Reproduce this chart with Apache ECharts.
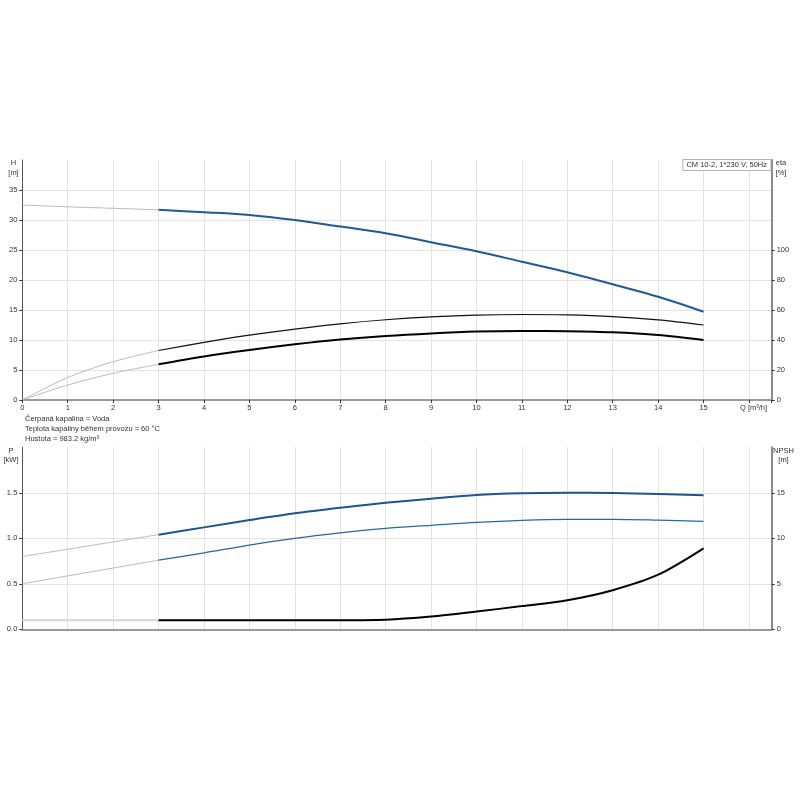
<!DOCTYPE html>
<html>
<head>
<meta charset="utf-8">
<script src="https://cdn.jsdelivr.net/npm/echarts@6/dist/echarts.min.js"></script>
<style>html,body{margin:0;padding:0;background:#fff;}#c{width:800px;height:800px;}</style>
</head>
<body>
<div id="c"></div>
<script>
// ---- data ----
const qExt = [0, 1, 2, 3];
const qMain = [3, 4, 5, 6, 7, 8, 9, 10, 11, 12, 13, 14, 15];

const hExt  = [32.5, 32.2, 31.95, 31.7];
const hMain = [31.7, 31.3, 30.85, 30.0, 28.9, 27.8, 26.3, 24.8, 23.05, 21.3, 19.3, 17.2, 14.7];

const etaUpExt  = [0, 15, 25.5, 33];
const etaUpMain = [33, 38.4, 43.2, 47.3, 50.8, 53.5, 55.4, 56.6, 57.0, 56.7, 55.6, 53.4, 50];
const etaLoExt  = [0, 10, 17.8, 23.8];
const etaLoMain = [23.8, 29.0, 33.3, 37.1, 40.3, 42.7, 44.4, 45.6, 46.0, 45.8, 45.1, 43.3, 40];

const p1Ext  = [0.80, 0.88, 0.96, 1.04];
const p1Main = [1.04, 1.12, 1.20, 1.275, 1.336, 1.39, 1.435, 1.476, 1.494, 1.50, 1.498, 1.487, 1.472];
const p2Ext  = [0.50, 0.587, 0.673, 0.76];
const p2Main = [0.76, 0.84, 0.926, 1.0, 1.06, 1.11, 1.143, 1.176, 1.198, 1.209, 1.209, 1.20, 1.187];
const npshExt  = [1.0, 1.0, 1.0, 1.0];
const npshMain = [1.0, 1.0, 1.0, 1.0, 1.0, 1.05, 1.4, 1.95, 2.55, 3.2, 4.3, 6.0, 8.9];

const hTicks = [0, 5, 10, 15, 20, 25, 30, 35];
const etaTicks = [0, 20, 40, 60, 80, 100];
const pTicks = [0, 0.5, 1.0, 1.5];
const npshTicks = [0, 5, 10, 15];

const titleText = 'CM 10-2, 1*230 V, 50Hz';
const infoLines = ['Čerpaná kapalina = Voda', 'Teplota kapaliny během provozu = 60 °C', 'Hustota = 983.2 kg/m³'];

// ---- helpers ----
const pair = (xs, ys) => xs.map((x, i) => [x, ys[i]]);
const FONT = 'Liberation Sans, Arial, sans-serif';
const FS = 7.5;
const txt = {fontFamily: FONT, fontSize: FS, color: '#333'};
const BLUE = '#1d5a97';
const EXT = '#a9a9a9';

function line(name, data, xi, yi, color, width, z) {
  return {name, type: 'line', xAxisIndex: xi, yAxisIndex: yi, data, symbol: 'none',
    smooth: 0.3, lineStyle: {color, width}, z: z || 2, silent: true};
}

const xCommon = {type: 'value', min: 0, max: 16.5, interval: 1,
  splitLine: {show: true, lineStyle: {color: '#e3e3e3', width: 1}}};

const chart = echarts.init(document.getElementById('c'), null, {renderer: 'canvas'});

const lblStyle = {color: '#4b72a6', fontSize: FS + 0.5, fontFamily: FONT};
const p1Data = pair(qMain, p1Main);
p1Data[p1Data.length - 1] = {value: p1Data[p1Data.length - 1],
  label: Object.assign({show: true, formatter: 'P1', position: 'top', distance: 1, offset: [-6, 0]}, lblStyle)};
const p2Data = pair(qMain, p2Main);
p2Data[p2Data.length - 1] = {value: p2Data[p2Data.length - 1],
  label: Object.assign({show: true, formatter: 'P2', position: 'bottom', distance: 1, offset: [-6, 0]}, lblStyle)};

const gtext = (x, y, text, align, lh) => ({type: 'text', x, y, style: {text, font: FS + 'px ' + FONT, fill: '#333',
  align: align || 'left', verticalAlign: 'middle', lineHeight: lh || 9.5}});

chart.setOption({
  animation: false,
  backgroundColor: '#fff',
  title: {text: titleText, right: 29, top: 159, padding: [2, 4, 2, 4],
    backgroundColor: '#fff', borderColor: '#b5b5b5', borderWidth: 1,
    textStyle: {fontFamily: FONT, fontSize: FS, fontWeight: 'normal', color: '#333'}},
  grid: [
    {left: 22.3, right: 28.3, top: 160, height: 240},
    {left: 22.3, right: 28.3, top: 447.3, height: 182}
  ],
  xAxis: [
    Object.assign({}, xCommon, {gridIndex: 0,
      axisLine: {show: true, lineStyle: {color: '#9a9a9a', width: 2}},
      axisTick: {show: true, length: 3, lineStyle: {color: '#333'}},
      axisLabel: Object.assign({}, txt, {margin: 4, formatter: v => v > 15 ? '' : String(v)})}),
    Object.assign({}, xCommon, {gridIndex: 1,
      axisLine: {show: true, lineStyle: {color: '#9a9a9a', width: 2}},
      axisTick: {show: false}, axisLabel: {show: false}})
  ],
  yAxis: [
    {type: 'value', gridIndex: 0, min: 0, max: 40, interval: 5, position: 'left',
      axisLine: {show: true, lineStyle: {color: '#555', width: 1}},
      axisTick: {show: true, length: 3, customValues: hTicks, lineStyle: {color: '#333'}},
      axisLabel: Object.assign({}, txt, {margin: 5, customValues: hTicks}),
      splitLine: {show: true, lineStyle: {color: '#e3e3e3', width: 1}}},
    {type: 'value', gridIndex: 0, min: 0, max: 160, interval: 20, position: 'right',
      axisLine: {show: true, lineStyle: {color: '#8a8a8a', width: 2}},
      axisTick: {show: true, length: 3, customValues: etaTicks, lineStyle: {color: '#333'}},
      axisLabel: Object.assign({}, txt, {margin: 5, customValues: etaTicks}),
      splitLine: {show: false}},
    {type: 'value', gridIndex: 1, min: 0, max: 2, interval: 0.5, position: 'left',
      axisLine: {show: true, lineStyle: {color: '#555', width: 1}},
      axisTick: {show: true, length: 3, customValues: pTicks, lineStyle: {color: '#333'}},
      axisLabel: Object.assign({}, txt, {margin: 5, customValues: pTicks, formatter: v => v.toFixed(1)}),
      splitLine: {show: true, lineStyle: {color: '#e3e3e3', width: 1}}},
    {type: 'value', gridIndex: 1, min: 0, max: 20, interval: 5, position: 'right',
      axisLine: {show: true, lineStyle: {color: '#8a8a8a', width: 2}},
      axisTick: {show: true, length: 3, customValues: npshTicks, lineStyle: {color: '#333'}},
      axisLabel: Object.assign({}, txt, {margin: 5, customValues: npshTicks}),
      splitLine: {show: false}}
  ],
  series: [
    line('H ext', pair(qExt, hExt), 0, 0, EXT, 0.8),
    line('H', pair(qMain, hMain), 0, 0, BLUE, 2, 3),
    line('eta ext', pair(qExt, etaUpExt), 0, 1, EXT, 0.8),
    line('eta', pair(qMain, etaUpMain), 0, 1, '#111', 1.2, 3),
    line('eta1 ext', pair(qExt, etaLoExt), 0, 1, EXT, 0.8),
    line('eta1', pair(qMain, etaLoMain), 0, 1, '#000', 2, 3),
    line('P1 ext', pair(qExt, p1Ext), 1, 2, EXT, 0.8),
    line('P1', p1Data, 1, 2, '#1b5690', 2, 3),
    line('P2 ext', pair(qExt, p2Ext), 1, 2, EXT, 0.8),
    line('P2', p2Data, 1, 2, '#2a66a3', 1.3, 3),
    line('NPSH ext', pair(qExt, npshExt), 1, 3, '#d6d6d6', 2),
    line('NPSH', pair(qMain, npshMain), 1, 3, '#000', 2, 3)
  ],
  graphic: [
    gtext(13.5, 168, 'H\n[m]', 'center'),
    gtext(781, 168, 'eta\n[%]', 'center'),
    gtext(753.5, 407.5, 'Q [m³/h]', 'center'),
    gtext(11, 455.5, 'P\n[kW]', 'center'),
    gtext(783.5, 455.5, 'NPSH\n[m]', 'center'),
    gtext(25, 419.3, infoLines[0]),
    gtext(25, 429.3, infoLines[1]),
    gtext(25, 439, infoLines[2])
  ]
});
</script>
</body>
</html>
